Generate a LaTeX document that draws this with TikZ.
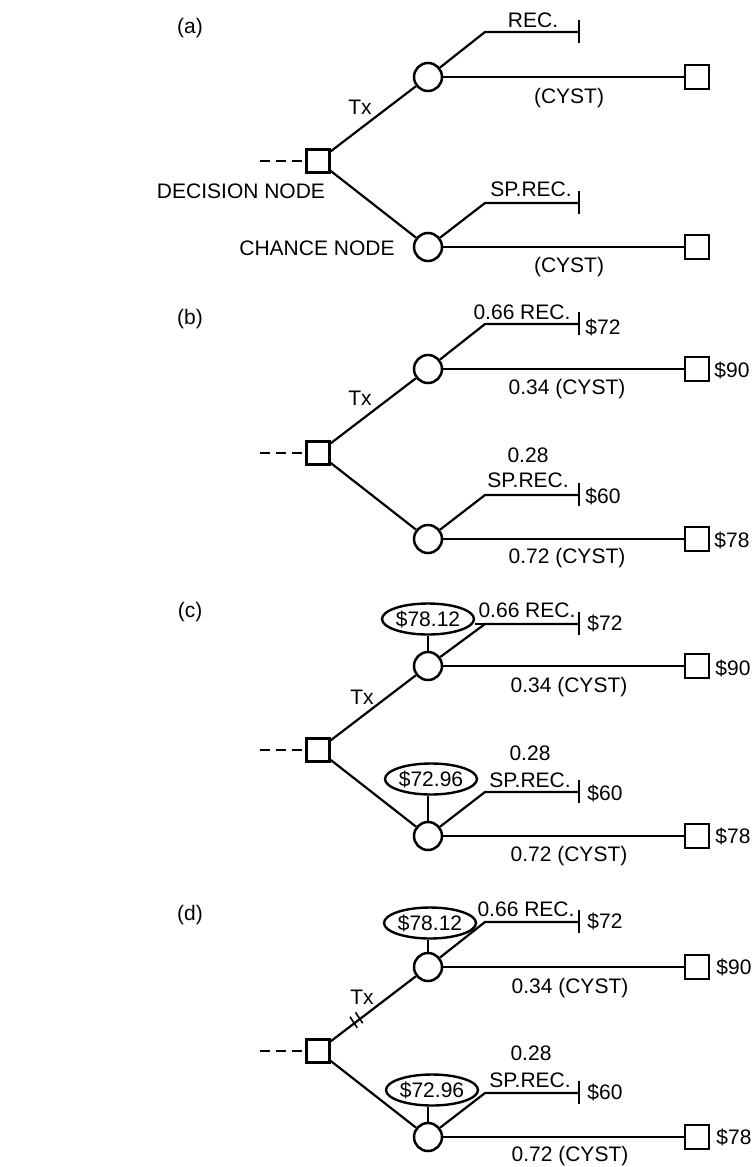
\documentclass[tikz,border=0pt]{standalone}
\usepackage{fontspec}
\setmainfont{Liberation Sans}
\usetikzlibrary{shapes.geometric,calc}
\tikzset{
  lbl/.style={font=\fontsize{21}{24}\selectfont, inner sep=0pt},
  decbox/.style={draw, rectangle, line width=2.5pt, minimum size=23pt, inner sep=0pt},
  chance/.style={draw, circle, line width=2.5pt, minimum size=28pt, inner sep=0pt},
  term/.style={draw, rectangle, line width=2.5pt, minimum size=24pt, inner sep=0pt},
  valell/.style={draw, ellipse, line width=2.4pt, minimum width=92pt, minimum height=31pt, inner sep=0pt, font=\fontsize{21}{24}\selectfont},
  branch/.style={line width=2.2pt},
  lead/.style={line width=2.2pt, dash pattern=on 10pt off 6pt},
}
% #1 prefix, #2 y of decision node, #3 y of upper corner
\newcommand{\dtree}[3]{%
  \node[decbox] (#1d) at (318,#2) {};
  \node[chance] (#1u) at (428,{#2-84}) {};
  \node[chance] (#1l) at (428,{#2+86}) {};
  \node[term] (#1us) at (697,{#2-84}) {};
  \node[term] (#1ls) at (697,{#2+86}) {};
  \coordinate (#1s) at (260,#2);
  \coordinate (#1uc) at (485,#3);
  \coordinate (#1ut) at (579,#3);
  \coordinate (#1lc) at (485,{#2+42});
  \coordinate (#1lt) at (579,{#2+42});
  \draw[lead] (#1s) -- (#1d.west);
  \draw[branch] (#1d) -- (#1u);
  \draw[branch] (#1d) -- (#1l);
  \draw[branch] (#1u) -- (#1uc) -- (#1ut);
  \draw[branch] (#1l) -- (#1lc) -- (#1lt);
  \draw[branch] (#1u) -- (#1us);
  \draw[branch] (#1l) -- (#1ls);
  \draw[branch] ([yshift=12pt]#1ut) -- ([yshift=-11pt]#1ut);
  \draw[branch] ([yshift=12pt]#1lt) -- ([yshift=-11pt]#1lt);
}
\begin{document}
\begin{tikzpicture}[x=1pt,y=-1pt]
\useasboundingbox (0,0) rectangle (755,1167);

% ---------- (a)
\dtree{a}{161}{32}
\node[lbl] (alab) at (190,28) {(a)};
\node[lbl] (arec) at (533,20) {REC.};
\node[lbl] (acy1) at (569,98) {(CYST)};
\node[lbl] (atx) at (360,107) {Tx};
\node[lbl] (adn) at (241,191) {DECISION NODE};
\node[lbl] (asp) at (531,189) {SP.REC.};
\node[lbl] (acn) at (317,248) {CHANCE NODE};
\node[lbl] (acy2) at (569,267) {(CYST)};

% ---------- (b)
\dtree{b}{453}{324}
\node[lbl] (blab) at (190,319) {(b)};
\node[lbl] (brec) at (522,312) {0.66 REC.};
\node[lbl] (b72) at (603,327) {\$72};
\node[lbl] (b90) at (732,370) {\$90};
\node[lbl] (bcy1) at (567,389) {0.34 (CYST)};
\node[lbl] (btx) at (360,398) {Tx};
\node[lbl] (bp) at (528,455) {0.28};
\node[lbl] (bsp) at (528,480) {SP.REC.};
\node[lbl] (b60) at (603,496) {\$60};
\node[lbl] (b78) at (732,540) {\$78};
\node[lbl] (bcy2) at (567,558) {0.72 (CYST)};

% ---------- (c)
\dtree{c}{750}{624}
\node[lbl] (clab) at (190,612) {(c)};
\node[valell] (ce1) at (428,619) {\$78.12};
\node[valell] (ce2) at (431,779) {\$72.96};
\draw[branch] (cu.north) -- (cu.north |- ce1.south);
\draw[branch] (cl.north) -- (cl.north |- ce2.south);
\draw[branch] (ce1.east |- cuc) -- (cuc);
\node[lbl] (crec) at (527,610) {0.66 REC.};
\node[lbl] (c72) at (605,623) {\$72};
\node[lbl] (c90) at (733,668) {\$90};
\node[lbl] (ccy1) at (569,687) {0.34 (CYST)};
\node[lbl] (ctx) at (362,697) {Tx};
\node[lbl] (cp) at (530,753) {0.28};
\node[lbl] (csp) at (530,780) {SP.REC.};
\node[lbl] (c60) at (605,793) {\$60};
\node[lbl] (c78) at (733,836) {\$78};
\node[lbl] (ccy2) at (569,856) {0.72 (CYST)};

% ---------- (d)
\dtree{d}{1051}{922}
\node[lbl] (dlab) at (190,915) {(d)};
\node[valell] (de1) at (430,923) {\$78.12};
\node[valell] (de2) at (432,1090) {\$72.96};
\draw[branch] (du.north) -- (du.north |- de1.south);
\draw[branch] (dl.north) -- (dl.north |- de2.south);
\node[lbl] (drec) at (526,909) {0.66 REC.};
\node[lbl] (d72) at (605,921) {\$72};
\node[lbl] (d90) at (734,967) {\$90};
\node[lbl] (dcy1) at (570,988) {0.34 (CYST)};
\node[lbl] (dtx) at (362,997) {Tx};
\node[lbl] (dp) at (531,1053) {0.28};
\node[lbl] (dsp) at (530,1080) {SP.REC.};
\node[lbl] (d60) at (605,1092) {\$60};
\node[lbl] (d78) at (734,1137) {\$78};
\node[lbl] (dcy2) at (570,1156) {0.72 (CYST)};
% hash marks on the Tx branch
\coordinate (hm) at ($(dd)!0.36!(du)$);
\draw[line width=1.6pt] ([shift={(-4,1.5)}]hm) ++(-3.6,-5.5) -- ++(7.2,11);
\draw[line width=1.6pt] ([shift={(1.5,-3)}]hm) ++(-3.6,-5.5) -- ++(7.2,11);
\end{tikzpicture}
\end{document}
